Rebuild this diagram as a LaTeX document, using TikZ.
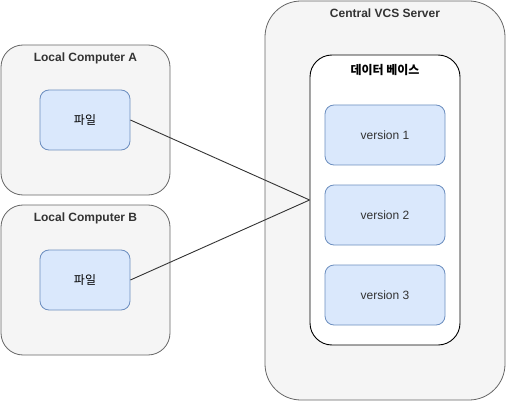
\documentclass[tikz,border=0pt]{standalone}
\usepackage{fontspec}
\setmainfont{Liberation Sans}
\newfontfamily\kr{Noto Sans CJK KR}
\definecolor{grayfill}{HTML}{F5F5F5}
\definecolor{graystroke}{HTML}{666666}
\definecolor{bluefill}{HTML}{DAE8FC}
\definecolor{bluestroke}{HTML}{6C8EBF}
\definecolor{txt}{HTML}{333333}
\begin{document}
\begin{tikzpicture}[x=1pt,y=-1pt,
  container/.style={draw=graystroke,fill=grayfill,line width=0.8pt},
  dbbox/.style={draw=black,fill=white,line width=0.9pt},
  bluebox/.style={draw=bluestroke,fill=bluefill,line width=0.8pt,rounded corners=9pt,
    minimum width=90pt,minimum height=60pt,inner sep=0pt,font=\fontsize{12}{14}\selectfont\kr},
  verbox/.style={draw=bluestroke,fill=bluefill,line width=0.8pt,rounded corners=9pt,
    minimum width=120pt,minimum height=60pt,inner sep=0pt,font=\fontsize{12}{14}\selectfont,text=txt},
  title/.style={font=\fontsize{12}{14}\selectfont\bfseries,text=txt,inner sep=0pt},
  link/.style={draw=txt,line width=0.9pt}]
\useasboundingbox (0,0) rectangle (506,401);
% containers
\draw[container,rounded corners=22pt] (1,45) rectangle (170,195);
\node[title] (ta) at (85.5,58) {Local Computer A};
\draw[container,rounded corners=22pt] (1,205) rectangle (170,355);
\node[title] (tb) at (85.5,218) {Local Computer B};
\draw[container,rounded corners=36pt] (265,1) rectangle (505,400);
\node[title] (ts) at (385,13) {Central VCS Server};
% database
\node[dbbox,rounded corners=22pt,minimum width=150pt,minimum height=290pt,inner sep=0pt] (db) at (385,200) {};
\node[inner sep=0pt,font=\fontsize{12}{14}\selectfont\kr\bfseries] (tdb) at (385,70) {데이터 베이스};
% files
\node[bluebox] (fa) at (85,120) {파일};
\node[bluebox] (fb) at (85,280) {파일};
% versions
\node[verbox] (v1) at (385,135) {version 1};
\node[verbox] (v2) at (385,215) {version 2};
\node[verbox] (v3) at (385,295) {version 3};
% links
\draw[link] (fa.east) -- (db.west);
\draw[link] (fb.east) -- (db.west);
\end{tikzpicture}
\end{document}
